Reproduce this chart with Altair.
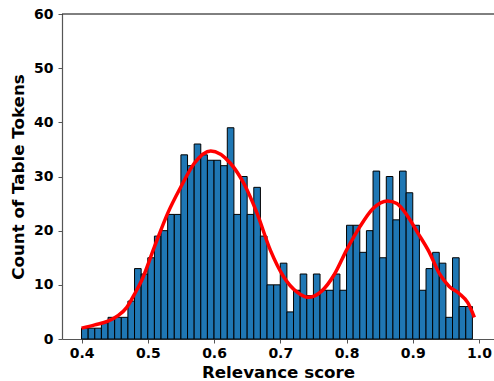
import altair as alt
import pandas as pd

# Histogram of relevance scores: one count per 0.01-wide bin starting at 0.40
bin_width = 0.01
bin_starts = [
    0.40, 0.41, 0.42, 0.43, 0.44, 0.45, 0.46, 0.47, 0.48, 0.49,
    0.50, 0.51, 0.52, 0.53, 0.54, 0.55, 0.56, 0.57, 0.58, 0.59,
    0.60, 0.61, 0.62, 0.63, 0.64, 0.65, 0.66, 0.67, 0.68, 0.69,
    0.70, 0.71, 0.72, 0.73, 0.74, 0.75, 0.76, 0.77, 0.78, 0.79,
    0.80, 0.81, 0.82, 0.83, 0.84, 0.85, 0.86, 0.87, 0.88, 0.89,
    0.90, 0.91, 0.92, 0.93, 0.94, 0.95, 0.96, 0.97, 0.98,
]
counts = [
    2, 2, 2, 3, 4, 4, 4, 7, 13, 12,
    15, 19, 20, 23, 23, 34, 32, 36, 34, 33,
    33, 32, 39, 23, 30, 23, 28, 19, 10, 10,
    14, 5, 9, 12, 8, 12, 9, 9, 12, 9,
    21, 21, 16, 20, 31, 15, 30, 22, 31, 27,
    21, 9, 13, 16, 14, 4, 15, 6, 6,
]

# Smoothed density curve, expressed in counts per bin
kde_x = [
    0.400, 0.420, 0.440, 0.455, 0.468, 0.480, 0.490, 0.510, 0.530, 0.550,
    0.570, 0.595, 0.625, 0.645, 0.665, 0.685, 0.705, 0.725, 0.742, 0.762,
    0.782, 0.800, 0.820, 0.840, 0.862, 0.876, 0.891, 0.908, 0.925, 0.940,
    0.955, 0.970, 0.983, 0.993,
]
kde_y = [
    2.0, 2.6, 3.3, 4.3, 5.8, 8.3, 10.6, 17.0, 23.2, 28.1,
    32.4, 34.7, 32.4, 28.7, 23.2, 16.4, 11.5, 8.7, 7.7, 8.8,
    12.0, 16.4, 20.7, 24.1, 25.5, 25.0, 22.9, 19.5, 16.0, 12.1,
    9.7, 8.4, 6.7, 4.0,
]

x_ticks = [0.4, 0.5, 0.6, 0.7, 0.8, 0.9, 1.0]
y_ticks = [0, 10, 20, 30, 40, 50, 60]

bars_df = pd.DataFrame({
    "start": bin_starts,
    "end": [round(s + bin_width, 2) for s in bin_starts],
    "count": counts,
})
kde_df = pd.DataFrame({"score": kde_x, "count": kde_y})

FONT = "DejaVu Sans"
x_scale = alt.Scale(domain=[0.3705, 1.0226], nice=False, zero=False)
y_scale = alt.Scale(domain=[0, 60], nice=False)

x_axis = alt.Axis(
    values=x_ticks, format=".1f", title="Relevance score", grid=False,
    labelFont=FONT, labelFontSize=14, labelFontWeight="bold", labelColor="black",
    titleFont=FONT, titleFontSize=16.7, titleFontWeight="bold", titleColor="black",
    domainColor="#555", domainWidth=1.2, tickColor="#555", tickSize=4,
    labelPadding=3, titlePadding=4,
)
y_axis = alt.Axis(
    values=y_ticks, format="d", title="Count of Table Tokens", grid=False,
    labelFont=FONT, labelFontSize=14, labelFontWeight="bold", labelColor="black",
    titleFont=FONT, titleFontSize=16.7, titleFontWeight="bold", titleColor="black",
    domainColor="#555", domainWidth=1.2, tickColor="#555", tickSize=4,
    labelPadding=5, titlePadding=6,
)

bars = alt.Chart(bars_df).mark_rect(
    color="#1f77b4", stroke="black", strokeWidth=1
).encode(
    x=alt.X("start:Q", scale=x_scale, axis=x_axis),
    x2="end:Q",
    y=alt.Y("count:Q", scale=y_scale, axis=y_axis),
)

kde = alt.Chart(kde_df).mark_line(
    color="red", strokeWidth=3.5, interpolate="monotone"
).encode(
    x=alt.X("score:Q", scale=x_scale),
    y=alt.Y("count:Q", scale=y_scale),
)

top_spine = alt.Chart(pd.DataFrame({"v": [60]})).mark_rule(
    color="black", strokeWidth=1
).encode(y=alt.Y("v:Q", scale=y_scale))

chart = alt.layer(bars, kde, top_spine).properties(
    width=432, height=325,
    autosize=alt.AutoSizeParams(type="none"),
    padding={"left": 62, "top": 14, "right": 0, "bottom": 42},
    background="white",
).configure_view(stroke=None)

chart.save("out.html", embed_options={"renderer": "svg", "actions": False})
